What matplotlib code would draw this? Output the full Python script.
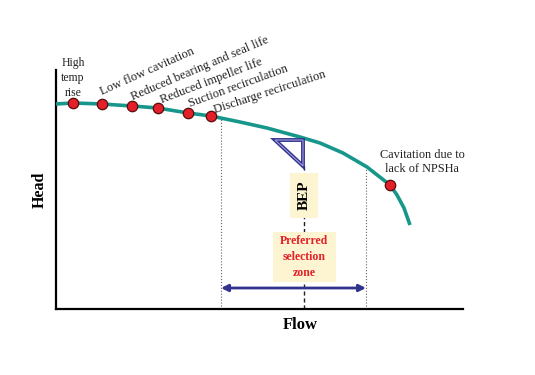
import numpy as np
import matplotlib
matplotlib.use('Agg')
import matplotlib.pyplot as plt
from matplotlib.patches import Polygon, Rectangle

plt.rcParams['font.family'] = ['Liberation Serif', 'DejaVu Serif']

# pump curve (flow, head in arbitrary units)
flow = [0, 17, 46, 76, 102, 132, 155, 184, 211, 244, 264, 287, 311, 334, 341, 348, 354]
head = [205, 206, 205, 203, 201, 196, 193, 187, 181, 172, 166, 156, 142, 124, 114, 101, 84]

# marked points on the curve
dot_flow = [17, 46, 76, 102, 132, 155, 334]
dot_head = [206, 205, 203, 201, 196, 193, 124]

labels = ['Low flow cavitation', 'Reduced bearing and seal life',
          'Reduced impeller life', 'Suction recirculation',
          'Discharge recirculation']
label_flow = [46, 77, 106, 134, 159]
label_head = [214, 209, 206, 202, 196]
label_rot = [24, 23, 21, 20, 18]

zone_lo, zone_hi = 165, 310
zone_lo_top, zone_hi_top = 192, 140
bep_flow, bep_top = 248, 144
arrow_head = 21

teal = '#17978b'
red = '#e3202a'
navy = '#33338f'
cream = '#fdf5d2'

fig = plt.figure(figsize=(5.35, 3.75), dpi=100)
ax = fig.add_axes([56/535, 66/375, 407/535, 239/375])
ax.set_xlim(0, 407)
ax.set_ylim(0, 239)
for s in ['top', 'right']:
    ax.spines[s].set_visible(False)
for s in ['left', 'bottom']:
    ax.spines[s].set_linewidth(1.6)
ax.set_xticks([])
ax.set_yticks([])

# zone limits
ax.plot([zone_lo, zone_lo], [0, zone_lo_top], color='#666666', lw=0.8, ls=':')
ax.plot([zone_hi, zone_hi], [0, zone_hi_top], color='#666666', lw=0.8, ls=':')
ax.plot([bep_flow, bep_flow], [0, bep_top], color='#222222', lw=1.0, ls=(0, (3, 2)))

ax.annotate('', xy=(zone_lo, arrow_head), xytext=(zone_hi, arrow_head),
            arrowprops=dict(arrowstyle='<|-|>', color=navy, lw=2,
                            mutation_scale=10, shrinkA=0, shrinkB=0))

# curve and points
ax.plot(flow, head, color=teal, lw=2.6, solid_capstyle='butt',
        solid_joinstyle='round', zorder=3)
ax.plot(dot_flow, dot_head, 'o', ms=7.5, mfc=red, mec='#5a0a0a', mew=0.9,
        zorder=4, clip_on=False)

# BEP triangle
tri = [[219, 169], [247, 169], [247, 143]]
ax.add_patch(Polygon(tri, closed=True, fc='white', ec=navy, lw=2.8, zorder=5))
ax.add_patch(Polygon(tri, closed=True, fill=False, ec='#a0a0dd', lw=0.8, zorder=6))

# boxes
ax.add_patch(Rectangle((234, 91), 28, 45, fc=cream, ec='none', zorder=5))
ax.text(248, 113.5, 'BEP', rotation=90, ha='center', va='center',
        fontsize=11, fontweight='bold', color='black', zorder=6)
ax.add_patch(Rectangle((217, 27), 63, 50, fc=cream, ec='none', zorder=5))
ax.text(248, 52, 'Preferred\nselection\nzone', ha='center', va='center',
        fontsize=8.5, fontweight='bold', color=red, linespacing=1.45, zorder=6)

# annotations
for t, x, y, r in zip(labels, label_flow, label_head, label_rot):
    ax.text(x, y, t, rotation=r, rotation_mode='anchor', ha='left', va='baseline',
            fontsize=9, color='#222222', clip_on=False)
ax.text(17, 231, 'High\ntemp\nrise', ha='center', va='center', fontsize=8.5,
        color='#222222', linespacing=1.3, clip_on=False)
ax.text(366, 147, 'Cavitation due to\nlack of NPSHa', ha='center', va='center',
        fontsize=8.8, color='#222222', linespacing=1.2, clip_on=False)

fig.text(40/535, 1-190/375, 'Head', rotation=90, ha='center', va='center',
         fontsize=11.5, fontweight='bold')
fig.text(300/535, 1-325/375, 'Flow', ha='center', va='center',
         fontsize=12, fontweight='bold')

fig.savefig('out.png', dpi=100)
